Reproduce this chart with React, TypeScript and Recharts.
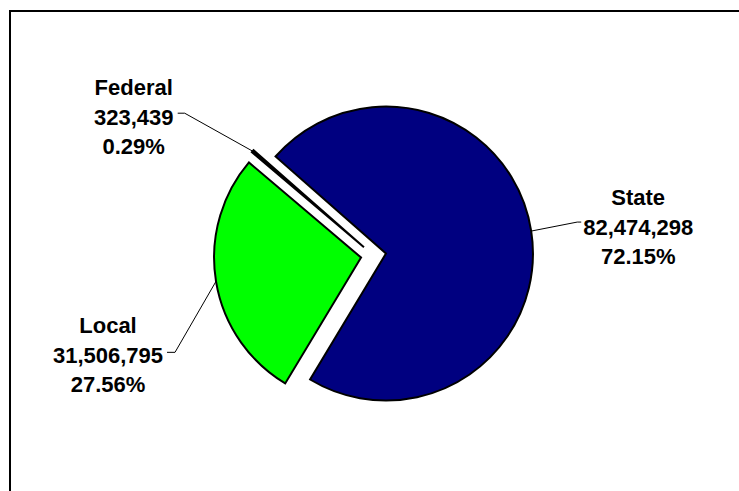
import { PieChart, Pie, Cell } from "recharts";

// slices, in drawing order (counter-clockwise from START)
const names = ["Local", "State", "Federal"];
const amounts = [31506795, 82474298, 323439];
const shares = ["27.56%", "72.15%", "0.29%"];
const colors = ["#00FF00", "#000080", "#000000"];

const data = names.map((name, i) => ({ name, value: amounts[i] }));

const W = 739;
const H = 491;
const CX = 373.5;
const CY = 255.5;
const R = 147;
const EXPLODE = 12.6;
const START = 139.7;
const RAD = Math.PI / 180;
const FONT = "'Liberation Sans', Arial, sans-serif";

const total = amounts.reduce((a, b) => a + b, 0);
const mids = amounts.map((v, i) => {
  const before = amounts.slice(0, i).reduce((a, b) => a + b, 0);
  return START + (360 * (before + v / 2)) / total;
});

// where each callout goes, relative to the point on the arc
const labelLayout: Record<
  string,
  { elbow: [number, number]; tick: number; textDx: number; textDy: number }
> = {
  State: { elbow: [46, -9], tick: 4, textDx: 61, textDy: 5 },
  Local: { elbow: [-41, 71], tick: -8, textDx: -67, textDy: 3 },
  Federal: { elbow: [-68, -38], tick: -7, textDx: -51, textDy: 4 },
};

function makeLabel(slice: number) {
  return (props: any) => {
    if (props.index !== slice) return null;
    const mid = props.midAngle ?? mids[slice];
    const cx = props.cx ?? CX + EXPLODE * Math.cos(mid * RAD);
    const cy = props.cy ?? CY - EXPLODE * Math.sin(mid * RAD);
    const r = props.outerRadius ?? R;
    const ax = cx + r * Math.cos(mid * RAD);
    const ay = cy - r * Math.sin(mid * RAD);
    const lay = labelLayout[names[slice]];
    const ex = ax + lay.elbow[0];
    const ey = ay + lay.elbow[1];
    const tx = ex + lay.textDx;
    const ty = ey + lay.textDy;
    const lines = [names[slice], amounts[slice].toLocaleString("en-US"), shares[slice]];
    return (
      <g>
        <polyline
          points={`${ax},${ay} ${ex},${ey} ${ex + lay.tick},${ey}`}
          fill="none"
          stroke="#000"
          strokeWidth={1}
        />
        {lines.map((t, k) => (
          <text
            key={k}
            x={tx}
            y={ty + (k - 1) * 29.5}
            textAnchor="middle"
            dominantBaseline="central"
            fontFamily={FONT}
            fontWeight="bold"
            fontSize={22}
            fill="#000"
          >
            {t}
          </text>
        ))}
      </g>
    );
  };
}

export default function App() {
  return (
    <div
      style={{
        position: "fixed",
        left: 0,
        top: 0,
        width: W,
        height: H,
        background: "#fff",
      }}
    >
      {/* frame: only the top and left edges fall inside the picture */}
      <div
        style={{ position: "absolute", left: 9, top: 10, width: W - 9, height: 2, background: "#000" }}
      />
      <div
        style={{ position: "absolute", left: 9, top: 10, width: 2, height: H - 10, background: "#000" }}
      />
      <div style={{ position: "absolute", left: 0, top: 0 }}>
        <PieChart width={W} height={H} margin={{ top: 0, right: 0, bottom: 0, left: 0 }}>
          {names.map((name, i) => (
            <Pie
              key={name}
              data={data}
              dataKey="value"
              nameKey="name"
              cx={CX + EXPLODE * Math.cos(mids[i] * RAD)}
              cy={CY - EXPLODE * Math.sin(mids[i] * RAD)}
              outerRadius={R}
              startAngle={START}
              endAngle={START + 360}
              isAnimationActive={false}
              labelLine={false}
              label={makeLabel(i)}
            >
              {data.map((d, j) => (
                <Cell
                  key={d.name}
                  fill={j === i ? colors[j] : "none"}
                  stroke={j === i ? "#000" : "none"}
                  strokeWidth={2}
                />
              ))}
            </Pie>
          ))}
        </PieChart>
      </div>
    </div>
  );
}
